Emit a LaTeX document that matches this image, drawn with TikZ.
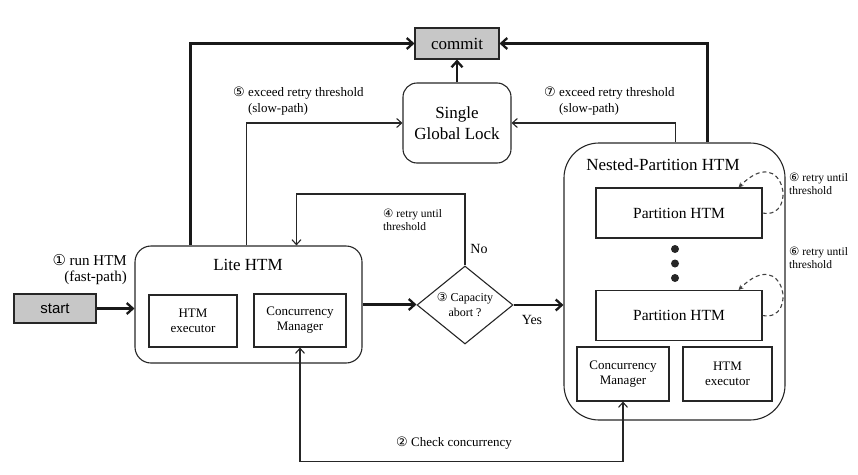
\documentclass[tikz,border=0pt]{standalone}
\usepackage{fontspec}
\setmainfont{Liberation Serif}
\setsansfont{Liberation Sans}
\newfontfamily\circfont{DejaVu Sans}
\usetikzlibrary{arrows.meta,shapes.geometric,calc}
\newcommand{\cnum}[1]{{\circfont #1}}

\begin{document}
\begin{tikzpicture}[x=1pt, y=-1pt,
    base/.style={draw=black!85, line width=1.1pt, inner sep=0pt, align=center},
    graybox/.style={base, fill=black!22},
    smallbox/.style={base, font=\fontsize{13}{15}\selectfont},
    partbox/.style={base, minimum width=166pt, minimum height=50pt, font=\fontsize{15.5}{17}\selectfont},
    title/.style={inner sep=0pt, font=\fontsize{17}{19}\selectfont},
    lbl/.style={inner sep=0pt, font=\fontsize{13}{16}\selectfont},
    tinylbl/.style={inner sep=0pt, align=left, font=\fontsize{11.5}{12.5}\selectfont},
    thinline/.style={line width=1.1pt, draw=black!85},
    thinarr/.style={thinline, -{Straight Barb[length=5pt,width=9pt]}},
    thickarr/.style={line width=2.3pt, draw=black!90, -{Straight Barb[length=6pt,width=11pt]}},
    dashloop/.style={line width=1.1pt, draw=black!75, dash pattern=on 4pt off 3pt, -{Stealth[length=5pt,width=5pt]}}]
    \useasboundingbox (0,0) rectangle (858,474);

    % commit 与全局锁
    \node[graybox, minimum width=84pt, minimum height=31pt, font=\fontsize{17}{19}\selectfont] (commit) at (457,43.5) {commit};
    \node[base, rounded corners=14pt, minimum width=108pt, minimum height=80pt, font=\fontsize{17}{21}\selectfont] (sgl) at (457,123) {Single\\Global Lock};

    % Lite HTM
    \node[base, rounded corners=16pt, minimum width=227pt, minimum height=117pt] (lite) at (248.5,304.5) {};
    \node[title] (litetitle) at (248,265) {Lite HTM};
    \node[smallbox, minimum width=88pt, minimum height=52pt] (liteexe) at (193,321) {HTM\\executor};
    \node[smallbox, minimum width=92pt, minimum height=53pt] (litecm) at (300,320.5) {Concurrency\\Manager};

    % start
    \node[graybox, minimum width=82pt, minimum height=29pt, font=\sffamily\fontsize{15}{17}\selectfont] (start) at (55,308.5) {start};

    % 判断框
    \node[diamond, base, aspect=1.23, minimum width=96pt, minimum height=78pt, font=\fontsize{12}{15}\selectfont] (cap) at (465,305) {\cnum{③} Capacity\\abort ?};

    % Nested-Partition HTM
    \node[base, rounded corners=35pt, minimum width=221pt, minimum height=277pt] (np) at (674.5,281.5) {};
    \node[title] (nptitle) at (663,165) {Nested-Partition HTM};
    \node[partbox] (part1) at (679,213) {Partition HTM};
    \node[partbox] (part2) at (679,315.5) {Partition HTM};
    \foreach \y in {249,263.5,278} {
        \fill[black!85] (675,\y) circle (4pt);
    }
    \node[smallbox, minimum width=92pt, minimum height=54pt] (npcm) at (623,374) {Concurrency\\Manager};
    \node[smallbox, minimum width=89pt, minimum height=54pt] (npexe) at (727.5,374) {HTM\\executor};

    % 粗箭头
    \draw[thickarr] (start.east) -- (start.east -| lite.west);
    \draw[thickarr] (lite.east) -- (lite.east -| cap.west);
    \draw[thickarr] (cap.east) -- (cap.east -| np.west);
    \draw[thickarr] ([xshift=56pt]lite.north west) |- (commit.west);
    \draw[thickarr] ([xshift=144pt]np.north west) |- (commit.east);
    \draw[thickarr] (sgl.north) -- (commit.south);

    % 细箭头
    \draw[thinarr] ([xshift=112pt]lite.north west) |- (sgl.west);
    \draw[thinarr] ([xshift=112pt]np.north west) |- (sgl.east);
    \coordinate (noturn) at (465,194);
    \draw[thinarr] (cap.north) -- (noturn) -| ([xshift=162pt]lite.north west);
    \draw[thinline, {Straight Barb[length=5pt,width=9pt]}-{Straight Barb[length=5pt,width=9pt]}] (litecm.south) -- ++(0,114) -| (npcm.south);

    % 重试虚线
    \draw[dashloop] (part1.east) .. controls +(36,7) and +(46,-46) .. ([xshift=-24pt]part1.north east);
    \draw[dashloop] (part2.east) .. controls +(36,7) and +(46,-46) .. ([xshift=-24pt]part2.north east);

    % 标注
    \node[lbl, anchor=east, align=right, font=\fontsize{15}{16}\selectfont] (fastlbl) at (127,270) {\cnum{①} run HTM\\(fast-path)};
    \node[lbl, anchor=west, align=left] (lbl5) at (233,101) {\cnum{⑤} exceed retry threshold\\\phantom{\cnum{⑤} }(slow-path)};
    \node[lbl, anchor=west, align=left] (lbl7) at (544,101) {\cnum{⑦} exceed retry threshold\\\phantom{\cnum{⑦} }(slow-path)};
    \node[tinylbl, anchor=west] (lbl4) at (383,220) {\cnum{④} retry until\\threshold};
    \node[tinylbl, anchor=west] (lbl6a) at (789,184) {\cnum{⑥} retry until\\threshold};
    \node[tinylbl, anchor=west] (lbl6b) at (789,258) {\cnum{⑥} retry until\\threshold};
    \node[lbl, font=\fontsize{14}{16}\selectfont] (nolbl) at (479,249) {No};
    \node[lbl, font=\fontsize{14}{16}\selectfont] (yeslbl) at (532,320) {Yes};
    \node[lbl] (checklbl) at (454,443) {\cnum{②} Check concurrency};
\end{tikzpicture}
\end{document}
